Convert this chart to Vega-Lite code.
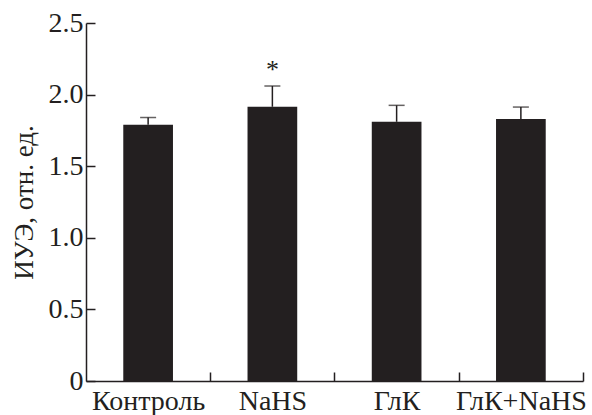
{
  "$schema": "https://vega.github.io/schema/vega-lite/v6.json",
  "width": 497,
  "height": 358,
  "autosize": "none",
  "padding": {"left": 86, "top": 23, "right": 9, "bottom": 34},
  "background": "white",
  "data": {"values": [
    {"group": "Контроль", "value": 1.79, "upper": 1.84, "mark": ""},
    {"group": "NaHS", "value": 1.915, "upper": 2.06, "mark": "*"},
    {"group": "ГлК", "value": 1.81, "upper": 1.925, "mark": ""},
    {"group": "ГлК+NaHS", "value": 1.83, "upper": 1.913, "mark": ""}
  ]},
  "config": {
    "view": {"stroke": null},
    "font": "Liberation Serif",
    "axis": {
      "domainColor": "#231f20", "domainWidth": 1.5,
      "tickColor": "#231f20", "tickWidth": 1.5,
      "labelFont": "Liberation Serif", "labelFontSize": 28, "labelColor": "#231f20",
      "titleFont": "Liberation Serif", "titleFontSize": 27, "titleFontWeight": "normal", "titleColor": "#231f20",
      "grid": false
    }
  },
  "encoding": {
    "x": {
      "field": "group", "type": "nominal", "sort": null,
      "scale": {"paddingInner": 0.6, "paddingOuter": 0.3},
      "axis": {"title": null, "labelAngle": 0, "tickOffset": 62.1, "labelOffset": -62.1, "tickSize": -9, "labelPadding": 15, "labelBaseline": "top"}
    }
  },
  "layer": [
    {
      "mark": {"type": "bar", "color": "#231f20"},
      "encoding": {
        "y": {
          "field": "value", "type": "quantitative",
          "scale": {"domain": [0, 2.5], "nice": false},
          "axis": {
            "title": "ИУЭ, отн. ед.", "values": [0, 0.5, 1, 1.5, 2, 2.5],
            "labelExpr": "datum.value == 0 ? '0' : format(datum.value, '.1f')",
            "tickSize": -9, "labelPadding": 12,
            "titleX": -62, "titleY": 179, "titleBaseline": "middle", "titleAlign": "center", "titleAngle": -90
          }
        }
      }
    },
    {
      "mark": {"type": "rule", "color": "#231f20", "strokeWidth": 1.5},
      "encoding": {"y": {"field": "value", "type": "quantitative"}, "y2": {"field": "upper"}}
    },
    {
      "mark": {"type": "tick", "color": "#231f20", "thickness": 1.5, "size": 16},
      "encoding": {"y": {"field": "upper", "type": "quantitative"}}
    },
    {
      "transform": [{"filter": "datum.mark != ''"}],
      "mark": {"type": "text", "fontSize": 26, "color": "#231f20", "baseline": "middle", "font": "Liberation Serif"},
      "encoding": {"y": {"datum": 2.17, "type": "quantitative"}, "text": {"field": "mark"}}
    }
  ]
}
